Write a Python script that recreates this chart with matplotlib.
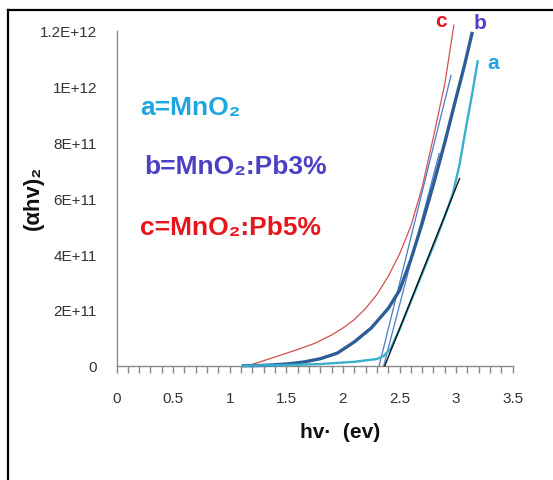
import matplotlib
matplotlib.use("Agg")
import matplotlib.pyplot as plt
from matplotlib.ticker import MultipleLocator, FixedLocator
from matplotlib.lines import Line2D

plt.rcParams['font.family'] = ['Liberation Sans Narrow', 'Liberation Sans', 'DejaVu Sans']

# photon energy (eV) and (alpha h nu)^2 in units of 1e12
hv_a = [1.12, 1.5, 1.8, 2.1, 2.3, 2.36, 2.42, 2.5, 2.6, 2.7, 2.8, 2.9, 2.97, 3.03, 3.09, 3.14, 3.19]
ahv_a = [0, 0.002, 0.006, 0.014, 0.024, 0.035, 0.06, 0.13, 0.23, 0.33, 0.43, 0.535, 0.615, 0.72, 0.86, 0.97, 1.09]

hv_b = [1.12, 1.3, 1.5, 1.65, 1.8, 1.95, 2.1, 2.25, 2.4, 2.5, 2.6, 2.7, 2.8, 2.9, 3.0, 3.07, 3.14]
ahv_b = [0, 0.001, 0.006, 0.013, 0.025, 0.045, 0.085, 0.135, 0.205, 0.27, 0.38, 0.51, 0.65, 0.80, 0.96, 1.07, 1.19]

hv_c = [1.16, 1.3, 1.45, 1.6, 1.75, 1.9, 2.0, 2.1, 2.2, 2.3, 2.4, 2.5, 2.6, 2.7, 2.8, 2.9, 2.98]
ahv_c = [0, 0.018, 0.038, 0.058, 0.08, 0.11, 0.135, 0.165, 0.205, 0.255, 0.32, 0.40, 0.50, 0.64, 0.82, 1.01, 1.22]

# linear extrapolations to the energy axis
fit_a_x, fit_a_y = [2.37, 3.03], [0, 0.67]
fit_b_x, fit_b_y = [2.36, 2.85], [0, 0.76]
fit_c_x, fit_c_y = [2.32, 2.955], [0, 1.04]

scale = 1e12
ytick_vals = [0, 0.2, 0.4, 0.6, 0.8, 1.0, 1.2]
ytick_text = ['0', '2E+11', '4E+11', '6E+11', '8E+11', '1E+12', '1.2E+12']
xtick_vals = [0, 0.5, 1, 1.5, 2, 2.5, 3, 3.5]
xtick_text = ['0', '0.5', '1', '1.5', '2', '2.5', '3', '3.5']

fig = plt.figure(figsize=(5.53, 4.81), dpi=100)
ax = fig.add_axes([0.2107, 0.2376, 0.7165, 0.6965])

def sc(vals):
    return [v * scale for v in vals]

ax.plot(hv_c, sc(ahv_c), color='#d0504f', lw=0.9, clip_on=False, zorder=3)
ax.plot(fit_c_x, sc(fit_c_y), color='#4a7ac8', lw=0.9, clip_on=False, zorder=4)
ax.plot(fit_b_x, sc(fit_b_y), color='#4a7ac8', lw=0.9, clip_on=False, zorder=4)
ax.plot(hv_b, sc(ahv_b), color='#2d5d96', lw=2.4, clip_on=False, zorder=5)
ax.plot(hv_a, sc(ahv_a), color='#3ab0cc', lw=1.7, clip_on=False, zorder=5)
ax.plot(fit_a_x, sc(fit_a_y), color='#111111', lw=1.0, clip_on=False, zorder=6)

ax.set_xlim(0, 3.5)
ax.set_ylim(0, 1.2 * scale)

ax.set_xticks(xtick_vals)
ax.set_xticklabels(xtick_text)
ax.xaxis.set_minor_locator(MultipleLocator(0.1))
ax.yaxis.set_major_locator(FixedLocator(sc(ytick_vals)))
ax.set_yticklabels(ytick_text)

ax.tick_params(axis='x', which='both', direction='out', length=5, width=1,
               color='#8a8a8a', labelsize=11, labelcolor='#333333', pad=13)
ax.tick_params(axis='y', which='both', length=0, labelsize=11,
               labelcolor='#333333', pad=14)

for side in ['top', 'right']:
    ax.spines[side].set_visible(False)
for side in ['left', 'bottom']:
    ax.spines[side].set_color('#8a8a8a')
    ax.spines[side].set_linewidth(1.0)

# sample legend written inside the plot
ax.text(0.06, 0.772, 'a=MnO₂', transform=ax.transAxes, color='#1fa6e0',
        fontsize=19, fontweight='bold', va='center', ha='left')
ax.text(0.07, 0.596, 'b=MnO₂:Pb3%', transform=ax.transAxes, color='#4a40c4',
        fontsize=19, fontweight='bold', va='center', ha='left')
ax.text(0.06, 0.414, 'c=MnO₂:Pb5%', transform=ax.transAxes, color='#e8161c',
        fontsize=19, fontweight='bold', va='center', ha='left')

# curve tags at the top ends
ax.text(2.87, 1.235 * scale, 'c', color='#e8161c', fontsize=15,
        fontweight='bold', ha='center', va='center', clip_on=False)
ax.text(3.21, 1.23 * scale, 'b', color='#5040d0', fontsize=15,
        fontweight='bold', ha='center', va='center', clip_on=False)
ax.text(3.33, 1.085 * scale, 'a', color='#1fa6e0', fontsize=15,
        fontweight='bold', ha='center', va='center', clip_on=False)

fig.text(340 / 553, 1 - 432 / 481, 'hv·  (ev)', fontsize=15, fontweight='bold',
         ha='center', va='center', color='#111111')
fig.text(33 / 553, 1 - 198 / 481, '(αhv)₂', fontsize=16, fontweight='bold',
         rotation=90, ha='center', va='center', color='#111111')

# outer frame lines
fig.add_artist(Line2D([8 / 553, 8 / 553], [0, 1 - 11 / 481], transform=fig.transFigure,
                      color='black', lw=1.6))
fig.add_artist(Line2D([8 / 553, 1], [1 - 11 / 481, 1 - 11 / 481], transform=fig.transFigure,
                      color='black', lw=1.6))

fig.savefig('out.png', dpi=100)
